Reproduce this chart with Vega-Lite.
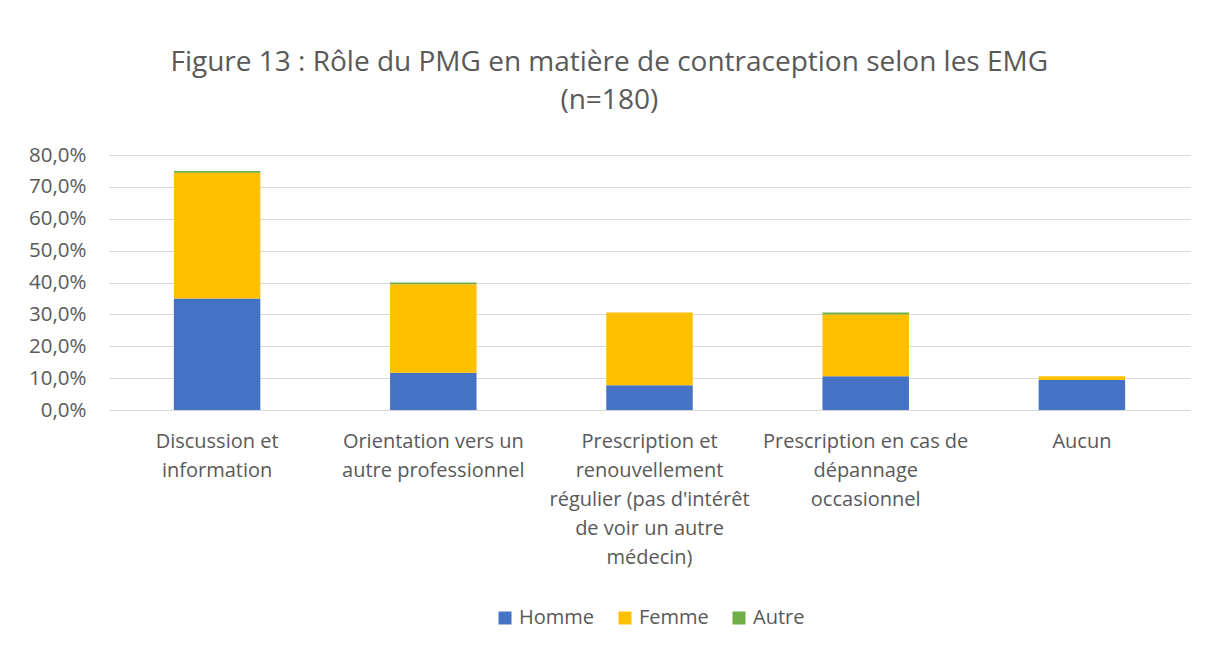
{
  "$schema": "https://vega.github.io/schema/vega-lite/v6.json",
  "width": 1212,
  "height": 654,
  "autosize": {"type": "fit", "contains": "padding"},
  "padding": {"left": 28, "right": 22, "top": 49, "bottom": 26},
  "background": "white",
  "config": {
    "font": "Open Sans",
    "view": {"stroke": null},
    "axis": {"labelColor": "#595959", "labelFontSize": 20, "labelFont": "Open Sans"},
    "legend": {"labelColor": "#595959", "labelFontSize": 20, "labelFont": "Open Sans", "layout": {"bottom": {"anchor": "middle"}}}
  },
  "title": {
    "text": ["Figure 13 : Rôle du PMG en matière de contraception selon les EMG", "(n=180)"],
    "fontSize": 28,
    "fontWeight": "normal",
    "color": "#595959",
    "font": "Open Sans",
    "lineHeight": 38,
    "anchor": "middle",
    "frame": "bounds",
    "offset": 30
  },
  "data": {
    "values": [
      {"role": "Discussion et|information", "sexe": "Homme", "pct": 0.35},
      {"role": "Discussion et|information", "sexe": "Femme", "pct": 0.3944},
      {"role": "Discussion et|information", "sexe": "Autre", "pct": 0.0056},
      {"role": "Orientation vers un|autre professionnel", "sexe": "Homme", "pct": 0.1167},
      {"role": "Orientation vers un|autre professionnel", "sexe": "Femme", "pct": 0.2778},
      {"role": "Orientation vers un|autre professionnel", "sexe": "Autre", "pct": 0.0056},
      {"role": "Prescription et|renouvellement|régulier (pas d'intérêt|de voir un autre|médecin)", "sexe": "Homme", "pct": 0.0778},
      {"role": "Prescription et|renouvellement|régulier (pas d'intérêt|de voir un autre|médecin)", "sexe": "Femme", "pct": 0.2278},
      {"role": "Prescription et|renouvellement|régulier (pas d'intérêt|de voir un autre|médecin)", "sexe": "Autre", "pct": 0},
      {"role": "Prescription en cas de|dépannage|occasionnel", "sexe": "Homme", "pct": 0.1056},
      {"role": "Prescription en cas de|dépannage|occasionnel", "sexe": "Femme", "pct": 0.1944},
      {"role": "Prescription en cas de|dépannage|occasionnel", "sexe": "Autre", "pct": 0.0056},
      {"role": "Aucun", "sexe": "Homme", "pct": 0.0944},
      {"role": "Aucun", "sexe": "Femme", "pct": 0.0111},
      {"role": "Aucun", "sexe": "Autre", "pct": 0}
    ]
  },
  "mark": {"type": "bar"},
  "encoding": {
    "x": {
      "field": "role",
      "type": "nominal",
      "sort": null,
      "title": null,
      "scale": {"paddingInner": 0.6, "paddingOuter": 0.3},
      "axis": {
        "labelAngle": 0,
        "labelExpr": "split(datum.value, '|')",
        "labelLineHeight": 29,
        "labelPadding": 21,
        "labelBaseline": "top",
        "labelLimit": 400,
        "ticks": false,
        "domainColor": "#d9d9d9",
        "domainWidth": 1
      }
    },
    "y": {
      "field": "pct",
      "type": "quantitative",
      "stack": "zero",
      "title": null,
      "scale": {"domain": [0, 0.8]},
      "axis": {
        "values": [0, 0.1, 0.2, 0.3, 0.4, 0.5, 0.6, 0.7, 0.8],
        "labelExpr": "replace(format(datum.value, '.1%'), '.', ',')",
        "labelFontSize": 20.5,
        "domain": false,
        "ticks": false,
        "labelPadding": 23,
        "gridColor": "#d9d9d9",
        "gridWidth": 1
      }
    },
    "color": {
      "field": "sexe",
      "type": "nominal",
      "sort": ["Homme", "Femme", "Autre"],
      "scale": {"domain": ["Homme", "Femme", "Autre"], "range": ["#4472C4", "#FFC000", "#70AD47"]},
      "legend": {
        "title": null,
        "orient": "bottom",
        "direction": "horizontal",
        "symbolType": "square",
        "symbolSize": 169,
        "symbolStrokeWidth": 0,
        "columnPadding": 20,
        "labelOffset": 4,
        "offset": 41
      }
    }
  }
}
